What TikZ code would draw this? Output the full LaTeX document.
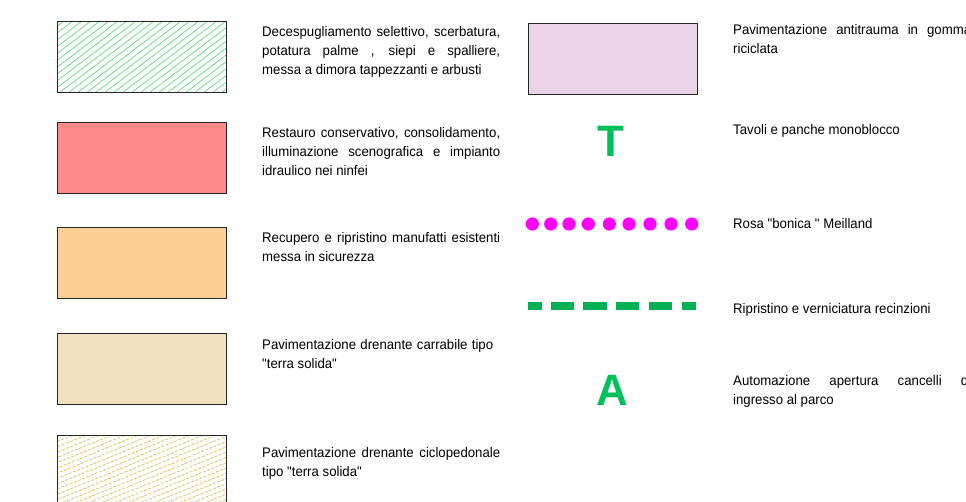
\documentclass[tikz,border=0pt]{standalone}
\usepackage{fontspec}
\setmainfont{Liberation Sans}
\newfontfamily\legendfont[FakeStretch=0.95]{Liberation Sans}
\newcommand\straightquote{\symbol{34}}
\definecolor{hatchgreen}{RGB}{96,220,124}
\definecolor{restred}{RGB}{255,138,138}
\definecolor{recorange}{RGB}{252,207,150}
\definecolor{terrabeige}{RGB}{241,226,191}
\definecolor{hatchsand}{RGB}{236,196,104}
\definecolor{lilac}{RGB}{232,212,230}
\definecolor{signgreen}{RGB}{0,192,92}
\definecolor{fencegreen}{RGB}{0,178,84}
\definecolor{rosemagenta}{RGB}{255,0,255}
\begin{document}
\begin{tikzpicture}[x=1pt,y=-1pt,
  swatch/.style={draw=black!85,line width=0.9pt,anchor=north west,
    minimum width=169pt,minimum height=71pt,inner sep=0pt},
  legtext/.style={anchor=base west,inner sep=0pt,text width=238pt,align=justify,
    font=\legendfont\fontsize{13.9}{19}\selectfont},
  bigsign/.style={font=\bfseries\fontsize{44}{44}\selectfont,text=signgreen,inner sep=0pt},
  rosedot/.style={circle,fill=rosemagenta,inner sep=0pt,minimum size=13.2pt},
  fencedash/.style={fill=fencegreen}]
\useasboundingbox (0,0) rectangle (966,502);
\clip (0,0) rectangle (966,502);

% --- left column swatches ---
\node[swatch,fill=white] (b1) at (57,21) {};
\begin{scope}
  \clip (b1.south west) rectangle (b1.north east);
  \foreach \c in {-40,-31,...,230}
    \draw[hatchgreen,line width=0.7pt] (\c,93) -- ++(95,-72);
\end{scope}
\draw[draw=black!85,line width=0.9pt] (b1.south west) rectangle (b1.north east);

\node[swatch,fill=restred] (b2) at (57,122) {};
\node[swatch,fill=recorange] (b3) at (57,227) {};
\node[swatch,fill=terrabeige] (b4) at (57,333) {};

\node[swatch,fill=white,minimum height=75pt] (b5) at (57,435) {};
\begin{scope}
  \clip (b5.south west) rectangle (b5.north east);
  \foreach \c in {-140,-127,...,230}
    \draw[hatchsand,line width=0.9pt,dash pattern=on 3pt off 1.5pt] (\c,511) -- ++(190,-77);
\end{scope}
\draw[draw=black!85,line width=0.9pt] (b5.south west) rectangle (b5.north east);

% --- left column descriptions ---
\node[legtext] (t1) at (262,37) {Decespugliamento selettivo, scerbatura,\linebreak
  potatura palme , siepi e spalliere,\linebreak messa a dimora tappezzanti e arbusti};
\node[legtext] (t2) at (262,138) {Restauro conservativo, consolidamento,\linebreak
  illuminazione scenografica e impianto\linebreak idraulico nei ninfei};
\node[legtext] (t3) at (262,243) {Recupero e ripristino manufatti esistenti\linebreak
  messa in sicurezza};
\node[legtext,text width=231pt] (t4) at (262,350) {Pavimentazione drenante carrabile tipo\linebreak
  \straightquote terra solida\straightquote};
\node[legtext] (t5) at (262,457) {Pavimentazione drenante ciclopedonale\linebreak
  tipo \straightquote terra solida\straightquote};

% --- right column symbols ---
\node[swatch,fill=lilac] (r1) at (528,23) {};
\node[bigsign] (T) at (611,141) {T};
\foreach \x [count=\i] in {532.3,550.7,569,588.3,609.3,629,650,671,691.7}
  \node[rosedot] (d\i) at (\x,224) {};
\foreach \a/\b [count=\i] in {528/542,551/574,583/607,616/639,649/672,682/696}
  \path[fencedash] (\a,302) coordinate (f\i) rectangle (\b,310);
\node[bigsign] (A) at (612,390) {A};

% --- right column descriptions ---
\node[legtext] (s1) at (733,35) {Pavimentazione antitrauma in gomma\linebreak riciclata};
\node[legtext] (s2) at (733,135) {Tavoli e panche monoblocco};
\node[legtext] (s3) at (733,229) {Rosa \straightquote bonica \straightquote\ Meilland};
\node[legtext] (s4) at (733,314) {Ripristino e verniciatura recinzioni};
\node[legtext] (s5) at (733,385) {Automazione apertura cancelli di\linebreak ingresso al parco};
\end{tikzpicture}
\end{document}
